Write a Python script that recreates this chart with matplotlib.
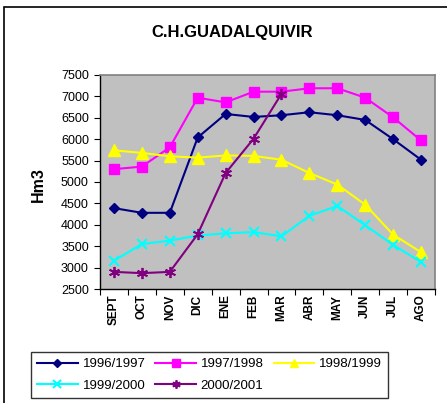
import matplotlib
matplotlib.use("Agg")
import matplotlib.pyplot as plt
from matplotlib.patches import Rectangle

months = ["SEPT", "OCT", "NOV", "DIC", "ENE", "FEB", "MAR", "ABR", "MAY", "JUN", "JUL", "AGO"]
s1996 = [4390, 4280, 4280, 6040, 6590, 6520, 6560, 6630, 6560, 6450, 6000, 5520]
s1997 = [5300, 5360, 5810, 6970, 6860, 7110, 7110, 7190, 7190, 6970, 6510, 5970]
s1998 = [5740, 5680, 5600, 5570, 5620, 5610, 5520, 5210, 4940, 4470, 3770, 3360]
s1999 = [3160, 3550, 3630, 3750, 3800, 3830, 3730, 4210, 4440, 3990, 3530, 3130]
s2000 = [2900, 2870, 2900, 3780, 5210, 6010, 7060]
series_names = ["1996/1997", "1997/1998", "1998/1999", "1999/2000", "2000/2001"]
yticks = [2500, 3000, 3500, 4000, 4500, 5000, 5500, 6000, 6500, 7000, 7500]

plt.rcParams['font.family'] = ['Liberation Sans', 'DejaVu Sans']

W, H = 447, 403
fig = plt.figure(figsize=(W / 100, H / 100), dpi=100)
fig.patch.set_facecolor("white")

# outer frame
fig.add_artist(Rectangle((4 / W, -0.05), 1.2, 1 - 7 / H + 0.05, transform=fig.transFigure,
                         fill=False, edgecolor="black", linewidth=1.2))

ax = fig.add_axes([100 / W, 1 - 289 / H, 335 / W, 214 / H])
ax.set_facecolor("#C0C0C0")

x = list(range(len(months)))
styles = [
    dict(color="#000080", marker="D", markersize=5.5),
    dict(color="#FF00FF", marker="s", markersize=7.5),
    dict(color="#FFFF00", marker="^", markersize=8),
    dict(color="#00FFFF", marker="x", markersize=7, markeredgewidth=1.5),
    dict(color="#800080", marker=(6, 2, 0), markersize=8, markeredgewidth=1.3),
]
data = [s1996, s1997, s1998, s1999, s2000]
for name, vals, st in zip(series_names, data, styles):
    ax.plot(x[:len(vals)], vals, label=name, linewidth=1.5, **st)

ax.set_xlim(-0.5, len(months) - 0.5)
ax.set_ylim(2500, 7500)
ax.set_yticks(yticks)
ax.set_yticklabels([str(v) for v in yticks], fontsize=9)
ax.set_xticks([i - 0.5 for i in range(len(months) + 1)])
ax.set_xticklabels([])
ax.set_xticks(x, minor=True)
ax.set_xticklabels(months, minor=True, rotation=90, fontsize=8.5, fontweight="bold")
ax.tick_params(axis="x", which="minor", length=0, pad=4)
ax.tick_params(axis="x", which="major", direction="out", length=4, color="black")
ax.tick_params(axis="y", direction="out", length=4, color="black", pad=4)

for side in ["top", "right"]:
    ax.spines[side].set_color("#808080")
    ax.spines[side].set_linewidth(1.2)
for side in ["left", "bottom"]:
    ax.spines[side].set_color("black")
    ax.spines[side].set_linewidth(1.0)

fig.text(232 / W, 1 - 32 / H, "C.H.GUADALQUIVIR", ha="center", va="center",
         fontsize=12, fontweight="bold")
fig.text(38 / W, 1 - 185 / H, "Hm3", ha="center", va="center", rotation=90,
         fontsize=11.5, fontweight="bold")

handles, labels = ax.get_legend_handles_labels()
order = [0, 3, 1, 4, 2]
leg = fig.legend([handles[i] for i in order], [labels[i] for i in order], ncol=3,
                 loc="upper left",
                 bbox_to_anchor=(31 / W, 1 - 352 / H), bbox_transform=fig.transFigure,
                 borderaxespad=0.0,
                 fontsize=9.5, frameon=True, fancybox=False, edgecolor="black",
                 handlelength=3.1, handletextpad=0.35, columnspacing=0.75,
                 borderpad=0.45, labelspacing=0.7, markerscale=0.75)
leg.get_frame().set_linewidth(1.0)

fig.savefig("out.png", dpi=100)
